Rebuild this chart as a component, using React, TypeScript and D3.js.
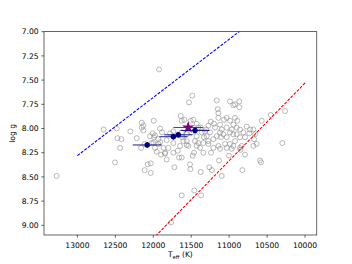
import * as d3 from 'd3'

// axis ticks
const tempTicks = [13000, 12500, 12000, 11500, 11000, 10500, 10000]
const loggTicks = [7.0, 7.25, 7.5, 7.75, 8.0, 8.25, 8.5, 8.75, 9.0]

// comparison sample, [Teff, log g]
const sample: [number, number][] = [
  [13272, 8.49], [12653, 8.01], [12504, 8.35], [12482, 8.0], [12473, 8.1],
  [12420, 8.11], [12438, 8.2], [12302, 8.03], [12218, 8.1], [12152, 7.94],
  [12130, 7.97], [12161, 8.2], [12113, 8.16], [12113, 8.43], [12073, 8.37],
  [12034, 8.36], [12034, 8.46], [11994, 7.92], [12007, 8.05], [11990, 8.09],
  [12021, 8.15], [11977, 8.2], [11955, 8.24], [11924, 7.39], [11911, 8.0],
  [11885, 8.04], [11911, 8.14], [11867, 8.2], [11845, 8.26], [11898, 8.27],
  [11823, 8.12], [11779, 8.05], [11722, 8.4], [11678, 8.23], [11660, 8.3],
  [11625, 8.3], [11638, 7.87], [11625, 7.92], [11590, 7.91], [11625, 8.69],
  [11603, 8.13], [11559, 8.17], [11529, 7.73], [11485, 7.66], [11507, 7.92],
  [11472, 7.91], [11516, 8.37], [11511, 8.42], [11481, 8.28], [11463, 8.25],
  [11459, 8.64], [11371, 8.69], [11375, 8.45], [11384, 8.2], [11406, 8.15],
  [11371, 7.99], [11318, 8.03], [11305, 8.01], [11252, 8.04], [11186, 7.99],
  [11243, 7.93], [11199, 7.95], [11274, 8.16], [11239, 8.25], [11261, 8.4],
  [11226, 8.43], [11331, 8.09], [11164, 7.71], [11151, 7.8], [11142, 7.84],
  [11142, 7.89], [11120, 8.04], [11107, 8.09], [11142, 8.18], [11120, 8.21],
  [11133, 8.33], [11098, 8.49], [11076, 8.06], [11068, 7.91], [11032, 7.89],
  [10989, 7.72], [10945, 7.76], [10923, 7.75], [10866, 7.72], [10866, 7.78],
  [10989, 7.92], [10945, 7.96], [10923, 7.89], [10892, 7.92], [10967, 8.01],
  [10901, 7.99], [10945, 8.06], [10989, 8.16], [10967, 8.21], [11003, 8.28],
  [11032, 8.09], [10857, 8.2], [10835, 8.18], [10769, 7.98], [10734, 8.05],
  [10681, 8.01], [10672, 8.11], [10637, 8.16], [10571, 7.92], [10593, 8.33],
  [10826, 8.43], [10453, 7.86], [10299, 8.15], [10264, 7.82], [11766, 8.97],
  [12152, 7.99], [12130, 8.02], [12043, 8.08], [11977, 8.07], [11933, 8.11],
  [11999, 8.15], [11933, 8.16], [11801, 8.2], [11845, 8.25], [11735, 8.25],
  [11617, 8.09], [11559, 8.13], [11537, 8.18], [11450, 8.13], [11428, 8.18],
  [11362, 8.04], [11296, 8.08], [11274, 8.13], [11208, 8.11], [11164, 8.08],
  [11098, 8.01], [11032, 7.99], [10989, 8.04], [10901, 8.06], [10857, 8.01],
  [10813, 8.04], [10791, 8.09], [10857, 8.09], [10923, 8.13], [10725, 8.01],
  [10659, 8.06], [10945, 8.18], [11054, 8.16], [11032, 8.2], [11340, 8.25],
  [11208, 8.2], [11406, 7.99], [11428, 7.95], [11274, 7.97], [11120, 7.96],
  [10681, 8.18], [10791, 8.27], [11735, 8.03], [11428, 8.08], [11625, 8.04],
  [11559, 8.06], [11494, 8.04], [11340, 8.15], [11735, 8.15], [11647, 8.18],
  [11823, 8.32], [10580, 8.35], [10850, 8.22],
]

// measured objects with error bars
const targetT = [12080, 11735, 11670, 11450]
const targetLogg = [8.17, 8.085, 8.065, 8.02]
const targetTErr = [190, 185, 185, 190]
const targetLoggErr = [0.03, 0.03, 0.03, 0.03]

const starT = 11540
const starLogg = 7.99
const starTErr = 195
const starLoggErr = 0.04

// boundary lines
const blueLine: [number, number][] = [[13000, 8.28], [10800, 6.958]]
const redLine: [number, number][] = [[10000, 7.53], [12000, 9.136]]

export default function App() {
  const width = 352
  const height = 264
  const margin = { top: 31.7, right: 35.2, bottom: 29, left: 44 }
  const innerW = width - margin.left - margin.right
  const innerH = height - margin.top - margin.bottom

  const x = d3.scaleLinear().domain([13440, 9845]).range([0, innerW])
  const y = d3.scaleLinear().domain([7.0, 9.1]).range([0, innerH])

  const line = d3.line<[number, number]>()
    .x(d => x(d[0]))
    .y(d => y(d[1]))

  const star = d3.symbol().type(d3.symbolStar).size(48)()
  const font = 'DejaVu Sans, sans-serif'
  const fs = 7.6
  const tick = 2.7
  const navy = '#000080'

  return (
    <svg width={width} height={height} style={{ position: 'absolute', left: 0, top: 0, background: '#fff' }}
      fontFamily={font}>
      <defs>
        <clipPath id="plot-clip">
          <rect width={innerW} height={innerH} />
        </clipPath>
      </defs>
      <g transform={`translate(${margin.left},${margin.top})`}>
        <g clipPath="url(#plot-clip)">
          {sample.map((d, i) => (
            <circle key={i} cx={x(d[0])} cy={y(d[1])} r={2.5}
              fill="none" stroke="#8c8c8c" strokeWidth={0.6} />
          ))}
          <path d={line(blueLine) ?? ''} fill="none" stroke="#0000ff" strokeWidth={1.1} strokeDasharray="3,1.4" />
          <path d={line(redLine) ?? ''} fill="none" stroke="#ff0000" strokeWidth={1.1} strokeDasharray="3,1.4" />

          {/* star with its error bars */}
          <line x1={x(starT - starTErr)} x2={x(starT + starTErr)} y1={y(starLogg)} y2={y(starLogg)}
            stroke="#800080" strokeWidth={0.9} />
          <line x1={x(starT)} x2={x(starT)} y1={y(starLogg - starLoggErr)} y2={y(starLogg + starLoggErr)}
            stroke="#800080" strokeWidth={0.9} />
          <path d={star ?? ''} transform={`translate(${x(starT)},${y(starLogg)})`} fill="#800080" />

          {targetT.map((t, i) => (
            <g key={i}>
              <line x1={x(t - targetTErr[i])} x2={x(t + targetTErr[i])}
                y1={y(targetLogg[i])} y2={y(targetLogg[i])} stroke={navy} strokeWidth={0.9} />
              <line x1={x(t)} x2={x(t)} y1={y(targetLogg[i] - targetLoggErr[i])}
                y2={y(targetLogg[i] + targetLoggErr[i])} stroke={navy} strokeWidth={0.9} />
              <circle cx={x(t)} cy={y(targetLogg[i])} r={2.7} fill={navy} />
            </g>
          ))}
        </g>

        <rect width={innerW} height={innerH} fill="none" stroke="#000" strokeWidth={0.6} />

        {/* x axis */}
        {tempTicks.map(t => (
          <g key={t} transform={`translate(${x(t)},${innerH})`}>
            <line y2={tick} stroke="#000" strokeWidth={0.6} />
            <text y={tick + 10} textAnchor="middle" fontSize={fs} fill="#000">{t}</text>
          </g>
        ))}
        <text x={innerW / 2} y={innerH + 22} textAnchor="middle" fontSize={fs} fill="#000">
          T<tspan fontSize={fs * 0.7} dy={1.8}>eff</tspan><tspan dy={-1.8}> (K)</tspan>
        </text>

        {/* y axis */}
        {loggTicks.map(v => (
          <g key={v} transform={`translate(0,${y(v)})`}>
            <line x2={-tick} stroke="#000" strokeWidth={0.6} />
            <text x={-tick - 2.7} dy="0.35em" textAnchor="end" fontSize={fs} fill="#000">{v.toFixed(2)}</text>
          </g>
        ))}
        <text transform={`translate(${15 - margin.left},${innerH / 2}) rotate(-90)`} textAnchor="middle"
          fontSize={fs} fill="#000">log g</text>
      </g>
    </svg>
  )
}
